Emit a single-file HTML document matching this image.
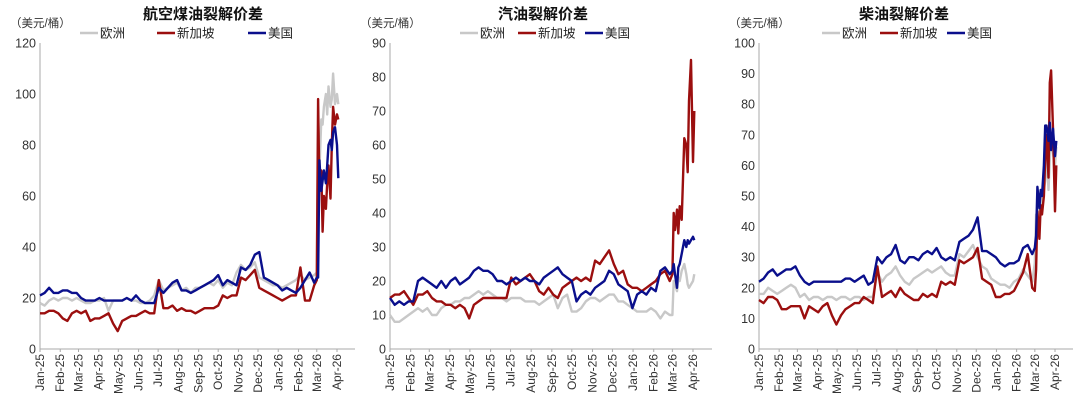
<!DOCTYPE html>
<html><head><meta charset="utf-8"><style>
body{margin:0;background:#fff;width:1080px;height:408px;overflow:hidden}
svg{display:block;font-family:"Liberation Sans","Noto Sans CJK SC",sans-serif}
</style></head><body>
<svg id="c" width="1080" height="408"></svg>
<script>
const months=["Jan-25","Feb-25","Mar-25","Apr-25","May-25","Jun-25","Jul-25","Aug-25","Sep-25","Oct-25","Nov-25","Dec-25","Jan-26","Feb-26","Mar-26","Apr-26"];
const monthDays=[0,31,59,90,120,151,181,212,243,273,304,334,365,396,424,455];
const days=[];for(let k=0;k<=60;k++)days.push(7*k);
days.push(424,426,428,431,433,435,438,440,442,445,447,449,452,455,457);
const seriesNames=["欧洲","新加坡","美国"];
const jetEU=[18,17,19,20,19, 20,20,19,20, 19,18,18,19, 19,20,15,19,19, 19,20,19,19, 18,18,19,21, 27,23,24,25,26, 23,24,22,24, 24,25,26,25, 27,24,26,25,30, 33,31,32,34, 28,27,26,25,25, 24,25,26,27, 29,27,28,29, 30,85,70,90,88,95,100,92,103,95,98,108,96,100,96];
const jetSG=[14,14,15,15,14, 12,11,14,15, 14,15,11,12, 12,13,14,10,7, 11,12,13,13, 14,15,14,14, 27,16,16,17,15, 16,15,15,14, 15,16,16,16, 17,21,20,21,21, 28,27,29,31, 24,23,22,21,20, 19,20,21,21, 32,19,19,25, 27,98,62,70,46,60,55,65,72,59,80,95,88,92,90];
const jetUS=[21,22,24,22,22, 23,23,22,22, 20,19,19,19, 20,19,19,19,19, 19,20,19,21, 19,18,18,18, 24,22,24,26,27, 23,23,22,23, 24,25,26,27, 29,25,27,26,25, 32,31,33,37, 38,28,27,26,25, 23,24,23,22, 24,27,30,26, 28,28,74,62,66,70,65,72,80,82,78,85,87,80,67];
const gasEU=[10,8,8,9,10, 11,12,11,12, 10,10,12,13, 13,14,14,15,15, 16,17,16,17, 16,15,15,14, 15,15,15,14,14, 14,13,14,15, 16,12,15,16, 11,11,12,14,15, 15,14,15,16, 16,14,14,13,12, 11,11,11,12, 11,9,11,10, 10,20,19,17,21,20,23,24,25,22,19,18,19,20,22];
const gasSG=[15,16,16,17,15, 13,16,16,17, 15,14,14,13, 13,12,13,12,9, 13,14,15,15, 15,15,15,15, 21,19,20,21,22, 20,17,16,18, 16,15,18,19, 20,21,20,21,20, 26,25,27,29, 25,22,23,19,18, 18,17,18,19, 20,22,23,20, 22,40,35,41,34,42,38,50,62,60,52,73,85,55,70];
const gasUS=[15,13,14,13,14, 14,20,21,20, 19,18,20,18, 20,21,19,20,21, 23,24,23,23, 22,20,20,19, 20,21,20,21,20, 20,19,21,22, 23,24,22,21, 20,14,16,17,16, 18,19,20,23, 22,19,18,17,12, 16,17,16,18, 17,23,24,22, 23,25,22,18,24,25,28,30,32,30,32,31,32,33,32];
const dslEU=[18,18,20,19,18, 19,20,21,20, 17,18,16,17, 17,16,17,17,16, 17,17,16,17, 17,16,17,17, 25,22,24,25,27, 24,22,21,23, 24,25,26,25, 26,27,25,24,24, 31,30,32,34, 30,27,26,23,22, 21,21,20,22, 23,26,24,22, 28,44,42,48,45,50,52,55,65,52,62,70,64,60,66];
const dslSG=[16,15,17,17,16, 13,13,14,14, 14,10,14,13, 12,14,15,11,8, 11,13,14,15, 15,17,16,15, 27,17,18,19,17, 20,18,17,16, 16,18,17,18, 17,22,21,22,21, 29,28,29,30, 33,23,22,21,17, 17,18,18,19, 22,25,31,20, 19,26,45,36,47,44,50,62,70,56,87,91,72,45,60];
const dslUS=[22,23,25,26,24, 25,26,26,27, 24,22,21,22, 22,22,22,22,22, 22,23,23,22, 23,24,21,22, 30,28,30,31,34, 29,28,30,30, 29,31,32,31, 33,30,29,30,29, 35,36,37,39, 43,32,32,31,30, 28,27,28,28, 29,33,34,31, 33,37,53,46,52,50,60,73,73,68,74,65,72,63,68];
const jetTicks=[0,20,40,60,80,100,120];
const gasTicks=[0,10,20,30,40,50,60,70,80,90];
const dslTicks=[0,10,20,30,40,50,60,70,80,90,100];

const NS="http://www.w3.org/2000/svg";
const svg=document.getElementById('c');
function mk(tag,attrs,parent){const e=document.createElementNS(NS,tag);for(const k in attrs)e.setAttribute(k,attrs[k]);(parent||svg).appendChild(e);return e;}
const colors=["#c8c8c8","#9b0f0f","#0a0f8c"];
const charts=[
 {title:"航空煤油裂解价差",x0:40,xApr:337,xEnd:355,tc:203,ticks:jetTicks,data:[jetEU,jetSG,jetUS],leg:[80,157,248],name:"jet-fuel"},
 {title:"汽油裂解价差",x0:390,xApr:693,xEnd:712,tc:543,ticks:gasTicks,data:[gasEU,gasSG,gasUS],leg:[460,518,585],name:"gasoline"},
 {title:"柴油裂解价差",x0:759,xApr:1055,xEnd:1073,tc:904,ticks:dslTicks,data:[dslEU,dslSG,dslUS],leg:[822,880,947],name:"diesel"}
];
const yTop=43,yBot=349;
charts.forEach(c=>{
 const g=mk('g',{});
 
 
 const ymax=c.ticks[c.ticks.length-1];
 const X=d=>c.x0+(c.xApr-c.x0)*d/455;
 const Y=v=>yBot-(yBot-yTop)*v/ymax;
 const t=mk('text',{x:c.tc,y:19,'text-anchor':'middle','font-size':15,'font-weight':'bold',fill:'#111'},g);t.textContent=c.title;
 
 const u=mk('text',{x:c.x0-30,y:27,'font-size':11.5,fill:'#333'},g);u.textContent="（美元/桶）";
 
 c.leg.forEach((lx,i)=>{
  const lg=mk('g',{},g);
  
  mk('line',{x1:lx,x2:lx+18,y1:33,y2:33,stroke:colors[i],'stroke-width':2.5},lg);
  const lt=mk('text',{x:lx+20,y:37.5,'font-size':12.5,fill:'#222'},lg);lt.textContent=seriesNames[i];
 });
 mk('line',{x1:c.x0,x2:c.x0,y1:yTop,y2:yBot,stroke:'#aaa','stroke-width':1},g);
 mk('line',{x1:c.x0,x2:c.xEnd,y1:yBot,y2:yBot,stroke:'#aaa','stroke-width':1},g);
 c.ticks.forEach(v=>{
  const tt=mk('text',{x:c.x0-4,y:Y(v)+4.5,'text-anchor':'end','font-size':12.5,fill:'#333'},g);tt.textContent=v;
  
 });
 monthDays.forEach((d,i)=>{
  const x=X(d);
  mk('line',{x1:x,x2:x,y1:yBot,y2:yBot+3,stroke:'#aaa'},g);
  const tt=mk('text',{x:0,y:0,'text-anchor':'end','font-size':12,fill:'#333',transform:`translate(${x+4},${yBot+5}) rotate(-90)`},g);tt.textContent=months[i];
  
 });
 c.data.forEach((arr,si)=>{
  const pts=arr.map((v,i)=>X(days[i]).toFixed(1)+','+Y(v).toFixed(1)).join(' ');
  const p=mk('polyline',{points:pts,fill:'none',stroke:colors[si],'stroke-width':2.4,'stroke-linejoin':'round'},g);
  
  
 });
});
</script>
</body></html>
